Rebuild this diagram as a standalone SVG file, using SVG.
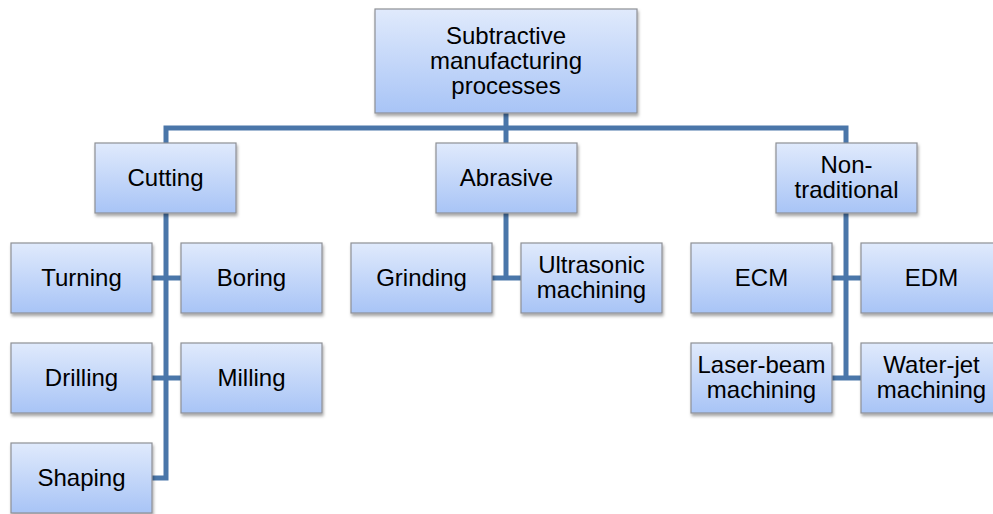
<svg xmlns="http://www.w3.org/2000/svg" width="993" height="514" viewBox="0 0 993 514">
  <defs>
    <linearGradient id="boxFill" x1="0" y1="0" x2="0" y2="1">
      <stop offset="0" stop-color="#e0eafc"/>
      <stop offset="1" stop-color="#a8c4f6"/>
    </linearGradient>
    <filter id="shadow" x="-10%" y="-10%" width="125%" height="135%">
      <feDropShadow dx="1" dy="2.5" stdDeviation="1.6" flood-color="#000" flood-opacity="0.35"/>
    </filter>
  </defs>
  <style>
    .box { fill: url(#boxFill); stroke: #8e9096; stroke-width: 1.2; filter: url(#shadow); }
    .lbl { font-family: "Liberation Sans", Arial, sans-serif; font-size: 24px; fill: #000; text-anchor: middle; }
    .link { fill: none; stroke: #4a76a9; stroke-width: 5; stroke-linejoin: miter; stroke-linecap: butt; }
  </style>
  <rect width="993" height="514" fill="#fff"/>

  <g id="connectors">
    <path class="link" d="M506 113 V128"/>
    <path class="link" d="M166 143 V128 H846 V143"/>
    <path class="link" d="M506 128 V143"/>
    <!-- Cutting branch -->
    <path class="link" d="M166 213 V478 H152"/>
    <path class="link" d="M152 278 H181"/>
    <path class="link" d="M152 378 H181"/>
    <!-- Abrasive branch -->
    <path class="link" d="M506 213 V278"/>
    <path class="link" d="M492 278 H521"/>
    <!-- Non-traditional branch -->
    <path class="link" d="M846 213 V378"/>
    <path class="link" d="M831 278 H861"/>
    <path class="link" d="M831 378 H861"/>
  </g>

  <g id="root">
    <rect class="box" x="375" y="9" width="262" height="104"/>
    <text class="lbl" x="506" y="43.5">Subtractive</text>
    <text class="lbl" x="506" y="68.5">manufacturing</text>
    <text class="lbl" x="506" y="93.5">processes</text>
  </g>

  <g id="cutting">
    <rect class="box" x="95" y="143" width="141" height="70"/>
    <text class="lbl" x="165.5" y="185.5">Cutting</text>
  </g>
  <g id="abrasive">
    <rect class="box" x="436" y="143" width="141" height="70"/>
    <text class="lbl" x="506.5" y="185.5">Abrasive</text>
  </g>
  <g id="non-traditional">
    <rect class="box" x="776" y="143" width="141" height="70"/>
    <text class="lbl" x="846.5" y="172.5">Non-</text>
    <text class="lbl" x="846.5" y="197.5">traditional</text>
  </g>

  <g id="turning">
    <rect class="box" x="11" y="243" width="141" height="70"/>
    <text class="lbl" x="81.5" y="285.5">Turning</text>
  </g>
  <g id="boring">
    <rect class="box" x="181" y="243" width="141" height="70"/>
    <text class="lbl" x="251.5" y="285.5">Boring</text>
  </g>
  <g id="drilling">
    <rect class="box" x="11" y="343" width="141" height="70"/>
    <text class="lbl" x="81.5" y="385.5">Drilling</text>
  </g>
  <g id="milling">
    <rect class="box" x="181" y="343" width="141" height="70"/>
    <text class="lbl" x="251.5" y="385.5">Milling</text>
  </g>
  <g id="shaping">
    <rect class="box" x="11" y="443" width="141" height="70"/>
    <text class="lbl" x="81.5" y="485.5">Shaping</text>
  </g>

  <g id="grinding">
    <rect class="box" x="351" y="243" width="141" height="70"/>
    <text class="lbl" x="421.5" y="285.5">Grinding</text>
  </g>
  <g id="ultrasonic-machining">
    <rect class="box" x="521" y="243" width="141" height="70"/>
    <text class="lbl" x="591.5" y="272.5">Ultrasonic</text>
    <text class="lbl" x="591.5" y="297.5">machining</text>
  </g>

  <g id="ecm">
    <rect class="box" x="691" y="243" width="141" height="70"/>
    <text class="lbl" x="761.5" y="285.5">ECM</text>
  </g>
  <g id="edm">
    <rect class="box" x="861" y="243" width="141" height="70"/>
    <text class="lbl" x="931.5" y="285.5">EDM</text>
  </g>
  <g id="laser-beam-machining">
    <rect class="box" x="691" y="343" width="141" height="70"/>
    <text class="lbl" x="761.5" y="372.5">Laser-beam</text>
    <text class="lbl" x="761.5" y="397.5">machining</text>
  </g>
  <g id="water-jet-machining">
    <rect class="box" x="861" y="343" width="141" height="70"/>
    <text class="lbl" x="931.5" y="372.5">Water-jet</text>
    <text class="lbl" x="931.5" y="397.5">machining</text>
  </g>
</svg>
